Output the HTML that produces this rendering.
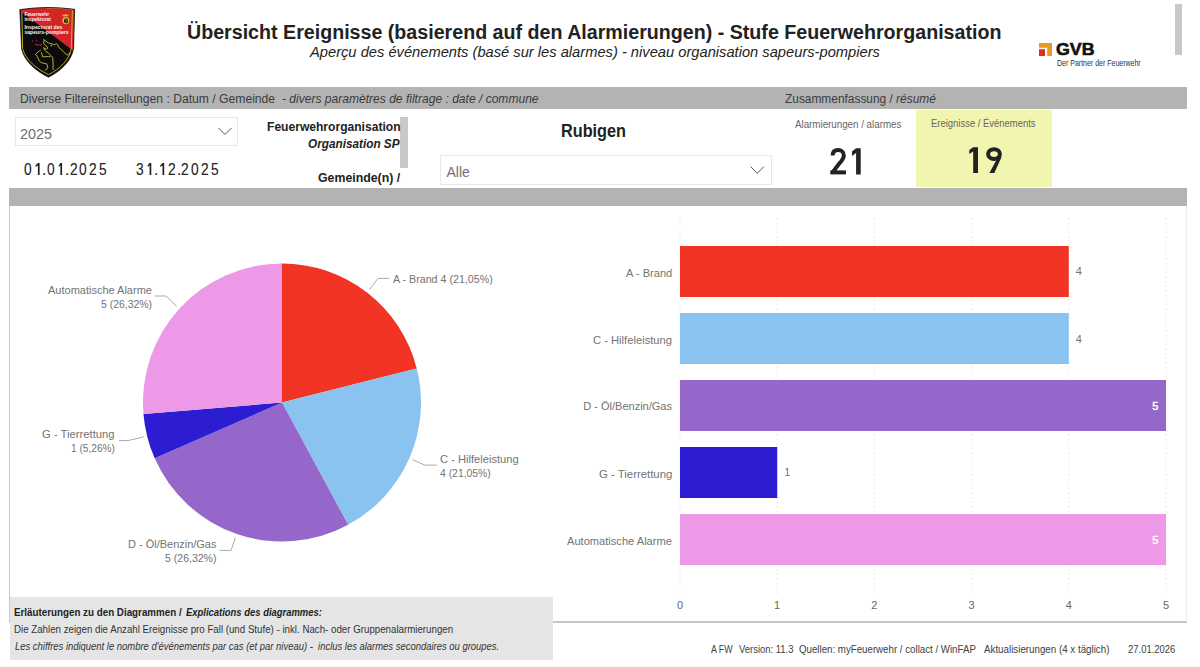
<!DOCTYPE html>
<html><head><meta charset="utf-8"><style>
html,body{margin:0;padding:0;background:#fff;}
body{width:1200px;height:667px;position:relative;overflow:hidden;font-family:"Liberation Sans", sans-serif;}
.t{position:absolute;white-space:pre;transform-origin:0 0;}
.g{position:absolute;left:0;top:0;}
.box{position:absolute;}
</style></head><body>
<!-- gray bars -->
<div class="box" style="left:9px;top:87px;width:1178px;height:22px;background:#b3b3b3"></div>
<div class="box" style="left:9px;top:188px;width:1178px;height:18px;background:#b3b3b3"></div>
<!-- chart container borders -->
<div class="box" style="left:9px;top:206px;width:1177px;height:415px;border-left:1px solid #c8c8c8;"></div><div class="box" style="left:1186px;top:206px;width:1px;height:415px;background:#ececec"></div><div class="box" style="left:9px;top:621px;width:1178px;height:2px;background:#c6c6c6"></div>
<!-- yellow -->
<div class="box" style="left:916px;top:110px;width:136px;height:77px;background:#f1f5af"></div>
<!-- dropdowns -->
<div class="box" style="left:15px;top:117px;width:221px;height:26.5px;border:1px solid #e6e6e6;"></div>
<div class="box" style="left:440px;top:155px;width:330px;height:28px;border:1px solid #e8e8e8;"></div>
<!-- scrollbars -->
<div class="box" style="left:400px;top:117px;width:8px;height:51px;background:#c8c8c8"></div>
<div class="box" style="left:1175px;top:4px;width:7px;height:51px;background:#c8c8c8"></div>
<!-- explanation -->
<div class="box" style="left:10px;top:597px;width:542.5px;height:63px;background:#e5e5e5"></div>
<svg class="g" width="1200" height="667" viewBox="0 0 1200 667"><path d="M282,402.5 L282.00,263.50 A139,139 0 0 1 416.75,368.38 Z" fill="#F23424"/><path d="M282,402.5 L416.75,368.38 A139,139 0 0 1 348.16,524.75 Z" fill="#8AC2F0"/><path d="M282,402.5 L348.16,524.75 A139,139 0 0 1 154.71,458.34 Z" fill="#9567CA"/><path d="M282,402.5 L154.71,458.34 A139,139 0 0 1 143.47,413.98 Z" fill="#2C1DD3"/><path d="M282,402.5 L143.47,413.98 A139,139 0 0 1 282.00,263.50 Z" fill="#EE99E8"/><polyline points="369.3,289.8 378,278.4 389.2,278.4" fill="none" stroke="#aaa" stroke-width="1"/><polyline points="154.7,296 166,296 176.7,306.3" fill="none" stroke="#aaa" stroke-width="1"/><polyline points="118.8,440.6 128,440.6 143.8,436.8" fill="none" stroke="#aaa" stroke-width="1"/><polyline points="219.7,550.4 231,550.4 235.4,537.6" fill="none" stroke="#aaa" stroke-width="1"/><polyline points="412.5,459.7 424.9,465.1 436.8,465.1" fill="none" stroke="#aaa" stroke-width="1"/><line x1="680.0" y1="218" x2="680.0" y2="596" stroke="#e2e2e2" stroke-width="1" stroke-dasharray="1.5,3"/><line x1="777.2" y1="218" x2="777.2" y2="596" stroke="#e2e2e2" stroke-width="1" stroke-dasharray="1.5,3"/><line x1="874.4" y1="218" x2="874.4" y2="596" stroke="#e2e2e2" stroke-width="1" stroke-dasharray="1.5,3"/><line x1="971.6" y1="218" x2="971.6" y2="596" stroke="#e2e2e2" stroke-width="1" stroke-dasharray="1.5,3"/><line x1="1068.8" y1="218" x2="1068.8" y2="596" stroke="#e2e2e2" stroke-width="1" stroke-dasharray="1.5,3"/><line x1="1166.0" y1="218" x2="1166.0" y2="596" stroke="#e2e2e2" stroke-width="1" stroke-dasharray="1.5,3"/><rect x="680" y="246" width="388.8" height="51" fill="#F23424"/><rect x="680" y="313" width="388.8" height="51" fill="#8AC2F0"/><rect x="680" y="380" width="486.0" height="51" fill="#9567CA"/><rect x="680" y="447" width="97.2" height="51" fill="#2C1DD3"/><rect x="680" y="514" width="486.0" height="51" fill="#EE99E8"/></svg>
<svg class="g" width="1200" height="667" viewBox="0 0 1200 667">
<defs><clipPath id="sh"><path d="M19.8,9.6 Q47,5.6 74.6,9.3 L73.6,48 C72,61 60,71.5 48.5,77.2 C37,71.5 24.5,62 21.6,49 Z"/></clipPath></defs>
<g clip-path="url(#sh)">
<rect x="15" y="3" width="65" height="78" fill="#0c0a0c"/>
<path d="M15,7 L20,10.9 L75,51.9 L80,51.9 L80,0 L15,0 Z" fill="#d42427"/>
<path d="M21.8,12 L22.6,48.5 C25.5,60.5 37,69 48.5,74.6 C60,69 69.8,59.5 71.3,48 L72.4,10.6" fill="none" stroke="#c9c21e" stroke-width="0.9"/>
<path d="M47,8.2 Q60,7.6 72.4,9.6" fill="none" stroke="#e08a1e" stroke-width="0.8"/>
<g fill="none" stroke="#d2d02a" stroke-width="0.85" stroke-linejoin="round" stroke-linecap="round">
<polyline points="44,39.75 48.2,42.9 51,43.6 54.5,44.65 56.6,43.6 58,45.35 58.7,47.45 61.5,49.55 63.6,52 67.1,55.15 70,53"/>
<polyline points="44,39.75 43.65,43.6 46.45,46 47.85,48.15 46.45,49.2 43.5,47.6 44.7,50.25 48.2,53 51,55.5 52.75,57.6 53.1,63 53.1,69.6"/>
<polyline points="40.5,50.25 37,52.7 35.6,54.45 37,56.2 38.4,59 39.4,61.1 41.7,62.8 46.8,63.9 47.9,67.9 45.1,70.2"/>
<polyline points="41.55,52.7 42.6,56.9 48.2,56.55 50.3,56.9"/>
</g>
<circle cx="51.35" cy="45.7" r="0.8" fill="#d2d02a"/>
<path d="M32.1,40 L32.5,41.6 M36.3,39.8 L36.6,41.6 M34.9,44.4 Q38,45.6 42.3,44.6" stroke="#c8283c" stroke-width="0.9" fill="none"/>
<g style="font-family:'Liberation Sans';font-size:5.2px;font-weight:bold" fill="#f2f2f2">
<text x="24.4" y="16.1" textLength="24.8" lengthAdjust="spacingAndGlyphs">Feuerwehr</text>
<text x="24.4" y="20.9" textLength="26.6" lengthAdjust="spacingAndGlyphs">inspektorat</text>
<text x="24.4" y="29" textLength="38" lengthAdjust="spacingAndGlyphs">Inspectorat des</text>
<text x="24.4" y="33.6" textLength="44.3" lengthAdjust="spacingAndGlyphs">sapeurs-pompiers</text>
</g>
<g>
<path d="M62.6,16.2 L62.8,14 L64,15.2 L65.6,13.8 L67.2,15.2 L68.4,14 L68.6,16.2 Z" fill="#d8c21c"/>
<ellipse cx="65.8" cy="20.6" rx="3.4" ry="3.7" fill="#d8c21c"/>
<ellipse cx="66" cy="20.8" rx="2.1" ry="2.5" fill="#111"/>
<path d="M64.6,19.2 L67.4,20.4 L65,22.6" stroke="#c8b81a" stroke-width="0.7" fill="none"/>
</g>
</g>
<path d="M19.8,9.6 Q47,5.6 74.6,9.3 L73.6,48 C72,61 60,71.5 48.5,77.2 C37,71.5 24.5,62 21.6,49 Z" fill="none" stroke="#1a1a1a" stroke-width="0.8"/>
</svg>
<svg class="g" width="1200" height="667" style="pointer-events:none">
<polyline points="218.5,128 225,134.5 231.5,128" fill="none" stroke="#555" stroke-width="1"/>
<polyline points="750.5,166.5 757.3,173.3 764,166.5" fill="none" stroke="#555" stroke-width="1"/>
<!-- date ones -->
<polygon points="37.90,163 39.60,163 39.60,175 37.90,175 37.90,165.4 35.60,167 35.60,165.2" fill="#222"/><polygon points="60.40,163 62.10,163 62.10,175 60.40,175 60.40,165.4 58.75,167 58.75,165.2" fill="#222"/><polygon points="149.60,163 151.30,163 151.30,175 149.60,175 149.60,165.4 147.70,167 147.70,165.2" fill="#222"/><polygon points="162.50,163 164.20,163 164.20,175 162.50,175 162.50,165.4 160.30,167 160.30,165.2" fill="#222"/>
<!-- big numbers -->
<path d="M832.6,155.6 C832.6,151.6 835,150.1 838.1,150.1 C841.4,150.1 843.8,152.1 843.8,155.4 C843.8,158.3 842.2,160.3 839.4,163.4 L832.6,172.4" fill="none" stroke="#222" stroke-width="4"/>
<rect x="830.3" y="170.4" width="15.7" height="4" fill="#222"/>
<polygon points="856.1,148.3 860.7,148.3 860.7,174.4 856.1,174.4 856.1,153 852,155.9 852,151.4" fill="#222"/>
<polygon points="973.2,147.2 978,147.2 978,172.9 973.2,172.9 973.2,151.6 969.3,154 969.3,149.9" fill="#222"/>
<ellipse cx="994" cy="154.1" rx="5.9" ry="4.9" fill="none" stroke="#222" stroke-width="4"/>
<polygon points="997.2,158.6 1001.6,157 994.3,172.9 989.4,172.9" fill="#222"/>
<!-- GVB squares -->
<path d="M1039,43 H1052 V56 H1047.2 V47.7 H1039 Z" fill="#ea9a22"/>
<rect x="1039" y="49.2" width="6" height="6.8" fill="#ec2a1c"/>
</svg>
<div class="t" style="left:186.82px;top:22.00px;font-size:20px;line-height:20px;color:#222;transform:scaleX(0.9819);"><span style="font-weight:bold;">Übersicht Ereignisse (basierend auf den Alarmierungen) - Stufe Feuerwehrorganisation</span></div><div class="t" style="left:309.73px;top:45.00px;font-size:14.5px;line-height:14.5px;color:#222;transform:scaleX(1.0131);"><span style="font-style:italic;">Aperçu des événements (basé sur les alarmes) - niveau organisation sapeurs-pompiers</span></div><div class="t" style="left:19.83px;top:93.00px;font-size:12.5px;line-height:12.5px;color:#3b3b3b;transform:scaleX(0.9714);">Diverse Filtereinstellungen : Datum / Gemeinde</div><div class="t" style="left:282.20px;top:93.00px;font-size:12.5px;line-height:12.5px;color:#3b3b3b;transform:scaleX(0.9642);"><span style="font-style:italic;">- divers paramètres de filtrage : date / commune</span></div><div class="t" style="left:784.64px;top:93.00px;font-size:12.5px;line-height:12.5px;color:#3b3b3b;transform:scaleX(0.9520);">Zusammenfassung / <span style="font-style:italic;">résumé</span></div><div class="t" style="left:19.68px;top:127.00px;font-size:14px;line-height:14px;color:#707070;transform:scaleX(1.0238);">2025</div><div class="t" style="left:24.08px;top:161.00px;font-size:17.4px;line-height:17.4px;color:#222;transform:scaleX(0.7900);-webkit-text-stroke:0.12px #222;">0</div><div class="t" style="left:42.20px;top:161.00px;font-size:17.4px;line-height:17.4px;color:#222;transform:scaleX(0.9000);-webkit-text-stroke:0.12px #222;">.</div><div class="t" style="left:47.20px;top:161.00px;font-size:17.4px;line-height:17.4px;color:#222;transform:scaleX(0.7900);-webkit-text-stroke:0.12px #222;">0</div><div class="t" style="left:64.85px;top:161.00px;font-size:17.4px;line-height:17.4px;color:#222;transform:scaleX(0.9000);-webkit-text-stroke:0.12px #222;">.</div><div class="t" style="left:69.54px;top:161.00px;font-size:17.4px;line-height:17.4px;color:#222;transform:scaleX(0.7900);-webkit-text-stroke:0.12px #222;">2</div><div class="t" style="left:79.08px;top:161.00px;font-size:17.4px;line-height:17.4px;color:#222;transform:scaleX(0.7900);-webkit-text-stroke:0.12px #222;">0</div><div class="t" style="left:88.69px;top:161.00px;font-size:17.4px;line-height:17.4px;color:#222;transform:scaleX(0.7900);-webkit-text-stroke:0.12px #222;">2</div><div class="t" style="left:98.69px;top:161.00px;font-size:17.4px;line-height:17.4px;color:#222;transform:scaleX(0.7900);-webkit-text-stroke:0.12px #222;">5</div><div class="t" style="left:136.29px;top:161.00px;font-size:17.4px;line-height:17.4px;color:#222;transform:scaleX(0.7900);-webkit-text-stroke:0.12px #222;">3</div><div class="t" style="left:154.15px;top:161.00px;font-size:17.4px;line-height:17.4px;color:#222;transform:scaleX(0.9000);-webkit-text-stroke:0.12px #222;">.</div><div class="t" style="left:168.49px;top:161.00px;font-size:17.4px;line-height:17.4px;color:#222;transform:scaleX(0.7900);-webkit-text-stroke:0.12px #222;">2</div><div class="t" style="left:176.70px;top:161.00px;font-size:17.4px;line-height:17.4px;color:#222;transform:scaleX(0.9000);-webkit-text-stroke:0.12px #222;">.</div><div class="t" style="left:181.24px;top:161.00px;font-size:17.4px;line-height:17.4px;color:#222;transform:scaleX(0.7900);-webkit-text-stroke:0.12px #222;">2</div><div class="t" style="left:191.10px;top:161.00px;font-size:17.4px;line-height:17.4px;color:#222;transform:scaleX(0.7900);-webkit-text-stroke:0.12px #222;">0</div><div class="t" style="left:200.74px;top:161.00px;font-size:17.4px;line-height:17.4px;color:#222;transform:scaleX(0.7900);-webkit-text-stroke:0.12px #222;">2</div><div class="t" style="left:210.89px;top:161.00px;font-size:17.4px;line-height:17.4px;color:#222;transform:scaleX(0.7900);-webkit-text-stroke:0.12px #222;">5</div><div class="t" style="left:267.22px;top:121.00px;font-size:12px;line-height:12px;color:#222;transform:scaleX(1.0064);"><span style="font-weight:bold;">Feuerwehrorganisation</span></div><div class="t" style="left:308.41px;top:138.00px;font-size:12px;line-height:12px;color:#222;transform:scaleX(0.9810);"><span style="font-weight:bold;font-style:italic;">Organisation SP</span></div><div class="t" style="left:317.91px;top:172.00px;font-size:12px;line-height:12px;color:#222;transform:scaleX(1.0272);"><span style="font-weight:bold;">Gemeinde(n) /</span></div><div class="t" style="left:560.94px;top:122.00px;font-size:18px;line-height:18px;color:#222;transform:scaleX(0.9032);"><span style="font-weight:bold;">Rubigen</span></div><div class="t" style="left:446.50px;top:165.00px;font-size:14px;line-height:14px;color:#707070;">Alle</div><div class="t" style="left:794.50px;top:120.00px;font-size:10px;line-height:10px;color:#666;transform:scaleX(0.9761);">Alarmierungen / alarmes</div><div class="t" style="left:931.24px;top:119.00px;font-size:10px;line-height:10px;color:#666;transform:scaleX(0.9456);">Ereignisse / Événements</div><div class="t" style="left:1055.79px;top:41.00px;font-size:17.4px;line-height:17.4px;color:#111;transform:scaleX(1.0223);-webkit-text-stroke:0.6px #111;"><span style="font-weight:bold;">GVB</span></div><div class="t" style="left:1057.44px;top:59.00px;font-size:9px;line-height:9px;color:#333;transform:scaleX(0.7782);">Der Partner der Feuerwehr</div><div class="t" style="left:393.30px;top:274.00px;font-size:11px;line-height:11px;color:#737373;transform:scaleX(0.9713);">A - Brand 4 (21,05%)</div><div class="t" style="left:48.00px;top:285.00px;font-size:11px;line-height:11px;color:#737373;">Automatische Alarme</div><div class="t" style="left:100.88px;top:299.00px;font-size:11px;line-height:11px;color:#737373;transform:scaleX(0.9489);">5 (26,32%)</div><div class="t" style="left:42.44px;top:429.00px;font-size:11px;line-height:11px;color:#737373;transform:scaleX(1.0240);">G - Tierrettung</div><div class="t" style="left:70.94px;top:443.00px;font-size:11px;line-height:11px;color:#737373;transform:scaleX(0.9221);">1 (5,26%)</div><div class="t" style="left:127.82px;top:539.00px;font-size:11px;line-height:11px;color:#737373;transform:scaleX(0.9978);">D - Öl/Benzin/Gas</div><div class="t" style="left:165.08px;top:553.00px;font-size:11px;line-height:11px;color:#737373;transform:scaleX(0.9565);">5 (26,32%)</div><div class="t" style="left:439.54px;top:454.00px;font-size:11px;line-height:11px;color:#737373;transform:scaleX(1.0139);">C - Hilfeleistung</div><div class="t" style="left:439.89px;top:468.00px;font-size:11px;line-height:11px;color:#737373;transform:scaleX(0.9431);">4 (21,05%)</div><div class="t" style="left:625.50px;top:268.00px;font-size:11px;line-height:11px;color:#737373;transform:scaleX(1.0076);">A - Brand</div><div class="t" style="left:592.74px;top:335.00px;font-size:11px;line-height:11px;color:#737373;transform:scaleX(1.0178);">C - Hilfeleistung</div><div class="t" style="left:583.32px;top:401.00px;font-size:11px;line-height:11px;color:#737373;">D - Öl/Benzin/Gas</div><div class="t" style="left:598.93px;top:469.00px;font-size:11px;line-height:11px;color:#737373;transform:scaleX(1.0340);">G - Tierrettung</div><div class="t" style="left:567.10px;top:536.00px;font-size:11px;line-height:11px;color:#737373;transform:scaleX(1.0091);">Automatische Alarme</div><div class="t" style="left:1075.78px;top:266.00px;font-size:11px;line-height:11px;color:#737373;">4</div><div class="t" style="left:1075.78px;top:334.00px;font-size:11px;line-height:11px;color:#737373;">4</div><div class="t" style="left:1152.34px;top:401.00px;font-size:11px;line-height:11px;color:#fff;-webkit-text-stroke:0.4px #fff;">5</div><div class="t" style="left:784.17px;top:467.00px;font-size:11px;line-height:11px;color:#737373;">1</div><div class="t" style="left:1152.34px;top:535.00px;font-size:11px;line-height:11px;color:#fff;-webkit-text-stroke:0.4px #fff;">5</div><div class="t" style="left:676.92px;top:600.00px;font-size:11px;line-height:11px;color:#666;">0</div><div class="t" style="left:773.98px;top:600.00px;font-size:11px;line-height:11px;color:#666;">1</div><div class="t" style="left:871.35px;top:600.00px;font-size:11px;line-height:11px;color:#666;">2</div><div class="t" style="left:968.55px;top:600.00px;font-size:11px;line-height:11px;color:#666;">3</div><div class="t" style="left:1065.80px;top:600.00px;font-size:11px;line-height:11px;color:#666;">4</div><div class="t" style="left:1162.95px;top:600.00px;font-size:11px;line-height:11px;color:#666;">5</div><div class="t" style="left:14.16px;top:608.00px;font-size:10px;line-height:10px;color:#222;transform:scaleX(0.9795);"><span style="font-weight:bold;">Erläuterungen zu den Diagrammen /</span></div><div class="t" style="left:186.11px;top:608.00px;font-size:10px;line-height:10px;color:#222;transform:scaleX(0.9441);"><span style="font-weight:bold;font-style:italic;">Explications des diagrammes:</span></div><div class="t" style="left:14.02px;top:625.00px;font-size:10px;line-height:10px;color:#333;transform:scaleX(0.9717);">Die Zahlen zeigen die Anzahl Ereignisse pro Fall (und Stufe) - inkl. Nach- oder Gruppenalarmierungen</div><div class="t" style="left:14.52px;top:642.00px;font-size:10px;line-height:10px;color:#333;transform:scaleX(0.9442);"><span style="font-style:italic;">Les chiffres indiquent le nombre d'événements par cas (et par niveau) -  inclus les alarmes secondaires ou groupes.</span></div><div class="t" style="left:711.00px;top:645.00px;font-size:10px;line-height:10px;color:#404040;transform:scaleX(0.8811);">A FW</div><div class="t" style="left:738.95px;top:645.00px;font-size:10px;line-height:10px;color:#404040;transform:scaleX(0.9449);">Version: 11.3</div><div class="t" style="left:798.56px;top:645.00px;font-size:10px;line-height:10px;color:#404040;transform:scaleX(0.9702);">Quellen: myFeuerwehr / collact / WinFAP</div><div class="t" style="left:983.50px;top:645.00px;font-size:10px;line-height:10px;color:#404040;transform:scaleX(0.9769);">Aktualisierungen (4 x täglich)</div><div class="t" style="left:1127.83px;top:645.00px;font-size:10px;line-height:10px;color:#404040;transform:scaleX(0.9461);">27.01.2026</div>
</body></html>
